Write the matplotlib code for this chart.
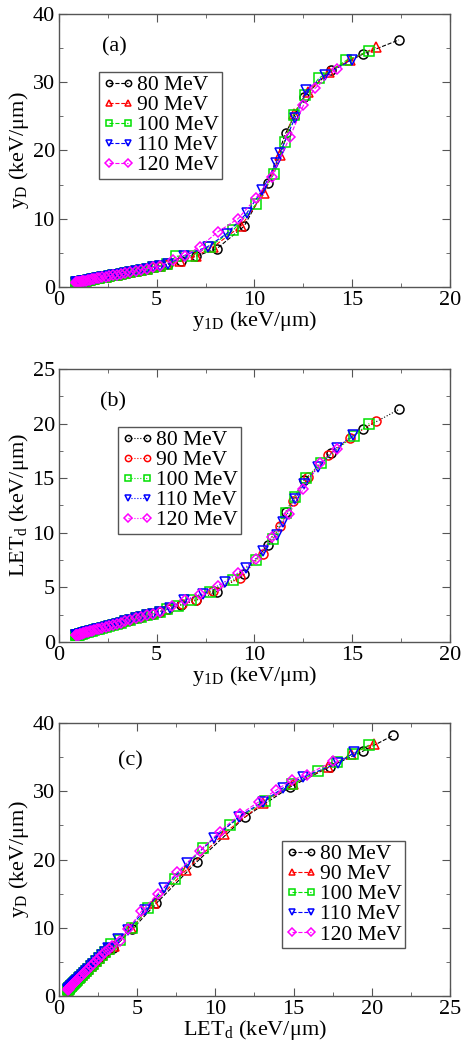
import matplotlib.pyplot as plt
from matplotlib.ticker import MultipleLocator

plt.rcParams['font.family'] = ['Liberation Serif', 'DejaVu Serif']
plt.rcParams['mathtext.fontset'] = 'stix'

energies = ["80 MeV", "90 MeV", "100 MeV", "110 MeV", "120 MeV"]
colors = ["black", "red", "#00e000", "blue", "magenta"]
markers_ac = ["o", "^", "s", "v", "D"]
markers_b = ["o", "o", "s", "v", "D"]

# ---- panel (a): yD vs y1D ----
low_a_x = [0.85, 0.88, 0.92, 0.96, 1.0, 1.05, 1.1, 1.16, 1.22, 1.3, 1.38, 1.47, 1.57, 1.68, 1.8,
           1.93, 2.07, 2.22, 2.38, 2.56, 2.75, 2.95, 3.17, 3.4, 3.65, 3.92, 4.2, 4.5, 4.82, 5.15]
low_a_y = [0.65, 0.67, 0.69, 0.71, 0.73, 0.76, 0.79, 0.82, 0.85, 0.9, 0.94, 0.99, 1.05, 1.11, 1.18,
           1.25, 1.33, 1.41, 1.5, 1.6, 1.71, 1.82, 1.94, 2.07, 2.21, 2.36, 2.52, 2.69, 2.87, 3.07]
tail_a_x = [
    [5.6, 6.26, 7.0, 8.07, 9.47, 10.67, 11.59, 12.53, 13.93, 15.53, 17.39],
    [5.5, 6.2, 7.0, 7.9, 9.3, 10.5, 11.3, 12.0, 12.75, 13.8, 14.9, 16.2],
    [5.5, 6.0, 6.8, 7.7, 8.9, 10.07, 11.0, 11.55, 12.0, 12.6, 13.3, 14.7, 15.87],
    [5.6, 6.4, 7.6, 8.57, 9.6, 10.4, 11.1, 11.3, 12.06, 12.66, 13.6, 14.97],
    [5.84, 6.43, 7.2, 8.14, 9.16, 10.07, 10.87, 11.8, 12.5, 13.1, 14.2],
]
tail_a_y = [
    [3.35, 3.8, 4.5, 5.6, 8.9, 15.2, 22.5, 27.9, 31.8, 34.1, 36.2],
    [3.3, 3.8, 4.5, 5.9, 8.9, 13.7, 19.3, 25.4, 28.6, 31.5, 33.3, 35.1],
    [3.3, 4.5, 4.6, 5.9, 8.3, 12.1, 16.6, 21.3, 25.2, 28.1, 30.6, 33.2, 34.6],
    [3.4, 4.6, 5.9, 7.8, 10.8, 14.2, 18.1, 19.6, 24.7, 28.8, 31.0, 33.3],
    [3.9, 4.6, 5.9, 8.1, 10.0, 13.0, 16.1, 21.9, 26.6, 29.1, 32.0],
]

# ---- panel (b): LETd vs y1D ----
low_b_x = low_a_x
low_b_y = [0.6, 0.62, 0.64, 0.66, 0.68, 0.7, 0.73, 0.76, 0.79, 0.83, 0.87, 0.92, 0.97, 1.02, 1.08,
           1.15, 1.22, 1.3, 1.38, 1.47, 1.57, 1.67, 1.78, 1.9, 2.02, 2.15, 2.29, 2.44, 2.6, 2.77]
tail_b_x = [
    [5.58, 6.26, 7.0, 8.07, 9.47, 10.67, 11.59, 12.53, 13.93, 15.53, 17.39],
    [5.6, 6.3, 7.0, 7.88, 9.28, 10.44, 11.33, 11.98, 12.75, 13.77, 14.88, 16.2],
    [5.5, 6.1, 6.77, 7.7, 8.9, 10.07, 10.96, 11.6, 12.06, 12.63, 13.4, 15.08, 15.87],
    [5.7, 6.4, 7.37, 8.48, 9.55, 10.44, 11.13, 11.47, 12.06, 12.54, 13.26, 14.2, 15.05],
    [5.8, 6.43, 7.2, 8.14, 9.16, 10.07, 10.87, 11.77, 12.5, 13.35, 14.2],
]
tail_b_y = [
    [3.0, 3.4, 3.8, 4.6, 6.2, 8.9, 11.9, 14.8, 17.3, 19.5, 21.3],
    [3.05, 3.45, 3.85, 4.7, 5.9, 8.1, 10.6, 12.9, 15.1, 17.1, 18.7, 20.2],
    [3.0, 3.3, 3.8, 4.6, 5.7, 7.5, 9.4, 11.8, 13.3, 15.0, 16.4, 18.9, 20.0],
    [3.1, 3.8, 4.4, 5.5, 6.8, 8.3, 9.8, 11.0, 13.05, 14.5, 16.0, 17.8, 18.95],
    [3.25, 3.8, 4.4, 5.1, 6.3, 7.6, 9.6, 11.7, 14.0, 16.35, 17.7],
]

# ---- panel (c): yD vs LETd ----
low_c_x = [0.55, 0.58, 0.61, 0.64, 0.67, 0.71, 0.75, 0.8, 0.85, 0.9, 0.96, 1.03, 1.1, 1.18,
           1.27, 1.37, 1.48, 1.6, 1.73, 1.87, 2.02, 2.18, 2.36, 2.55, 2.75, 2.97, 3.2]
low_c_y = [0.95, 1.02, 1.09, 1.16, 1.23, 1.32, 1.41, 1.53, 1.65, 1.76, 1.9, 2.06, 2.22, 2.41,
           2.62, 2.85, 3.1, 3.38, 3.68, 4.0, 4.34, 4.7, 5.1, 5.52, 5.96, 6.44, 6.94]
tail_c_x = [
    [3.46, 4.69, 6.23, 8.83, 11.88, 14.76, 17.32, 19.45, 21.37],
    [3.5, 4.6, 6.06, 8.15, 10.54, 13.05, 14.97, 17.2, 18.7, 20.14],
    [3.35, 3.9, 4.7, 5.7, 7.4, 9.2, 10.92, 13.16, 14.87, 16.57, 17.8, 18.81, 19.84],
    [3.14, 3.8, 4.4, 5.5, 6.7, 8.2, 9.9, 11.52, 13.05, 14.33, 15.6, 17.85, 18.88],
    [3.4, 3.9, 4.42, 5.27, 6.33, 7.55, 9.0, 10.28, 11.56, 12.8, 13.9, 14.93, 15.83, 17.53],
]
tail_c_y = [
    [7.0, 9.8, 13.6, 19.7, 26.2, 30.6, 33.6, 35.9, 38.2],
    [7.3, 9.9, 13.6, 18.5, 23.8, 28.3, 31.1, 33.5, 35.4, 37.0],
    [7.6, 8.2, 10.0, 12.9, 17.2, 21.7, 25.1, 28.6, 31.0, 32.9, 34.3, 35.5, 36.8],
    [7.0, 8.3, 9.7, 12.6, 15.8, 19.5, 23.1, 26.3, 28.5, 30.5, 32.1, 34.1, 35.7],
    [7.3, 8.1, 9.8, 12.4, 15.0, 18.1, 21.3, 24.1, 26.6, 28.5, 30.2, 31.7, 32.4, 34.4],
]

fig = plt.figure(figsize=(4.67, 10.5), dpi=100)
ax_a = fig.add_axes([0.1263, 0.7267, 0.8373, 0.26])
ax_b = fig.add_axes([0.1263, 0.3886, 0.8373, 0.26])
ax_c = fig.add_axes([0.1263, 0.0514, 0.8373, 0.26])

panels = [
    (ax_a, low_a_x, low_a_y, tail_a_x, tail_a_y, markers_ac, "--"),
    (ax_b, low_b_x, low_b_y, tail_b_x, tail_b_y, markers_b, ":"),
    (ax_c, low_c_x, low_c_y, tail_c_x, tail_c_y, markers_ac, "--"),
]

for ax, lx, ly, tx, ty, mks, ls in panels:
    for i in range(5):
        ax.plot(lx + tx[i], ly + ty[i], linestyle=ls, linewidth=0.8, color=colors[i],
                marker=mks[i], markersize=6.5 if mks[i] != "D" else 5.5, markerfacecolor="none",
                markeredgecolor=colors[i], markeredgewidth=1.1, label=energies[i])

for ax in (ax_a, ax_b, ax_c):
    ax.tick_params(which="both", direction="in", top=True, right=True, colors="#555555",
                   labelcolor="black", labelsize=16, pad=3)
    ax.tick_params(which="major", length=6)
    ax.tick_params(which="minor", length=3)
    for s in ax.spines.values():
        s.set_color("#555555")
        s.set_linewidth(1.0)

ax_a.set_xlim(0, 20)
ax_a.set_ylim(0, 40)
ax_a.xaxis.set_major_locator(MultipleLocator(5))
ax_a.xaxis.set_minor_locator(MultipleLocator(2.5))
ax_a.yaxis.set_major_locator(MultipleLocator(10))
ax_a.yaxis.set_minor_locator(MultipleLocator(5))
ax_a.set_xlabel(r"y$_{\mathregular{1D}}$ (keV/μm)", fontsize=16, labelpad=-1)
ax_a.set_ylabel(r"y$_{\mathregular{D}}$ (keV/μm)", fontsize=16, labelpad=1)
ax_a.text(0.11, 0.88, "(a)", transform=ax_a.transAxes, fontsize=16, va="center")

ax_b.set_xlim(0, 20)
ax_b.set_ylim(0, 25)
ax_b.xaxis.set_major_locator(MultipleLocator(5))
ax_b.xaxis.set_minor_locator(MultipleLocator(2.5))
ax_b.yaxis.set_major_locator(MultipleLocator(5))
ax_b.yaxis.set_minor_locator(MultipleLocator(2.5))
ax_b.set_xlabel(r"y$_{\mathregular{1D}}$ (keV/μm)", fontsize=16, labelpad=-1)
ax_b.set_ylabel(r"LET$_{\mathregular{d}}$ (keV/μm)", fontsize=16, labelpad=1)
ax_b.text(0.105, 0.88, "(b)", transform=ax_b.transAxes, fontsize=16, va="center")

ax_c.set_xlim(0, 25)
ax_c.set_ylim(0, 40)
ax_c.xaxis.set_major_locator(MultipleLocator(5))
ax_c.xaxis.set_minor_locator(MultipleLocator(2.5))
ax_c.yaxis.set_major_locator(MultipleLocator(10))
ax_c.yaxis.set_minor_locator(MultipleLocator(5))
ax_c.set_xlabel(r"LET$_{\mathregular{d}}$ (keV/μm)", fontsize=16, labelpad=-1)
ax_c.set_ylabel(r"y$_{\mathregular{D}}$ (keV/μm)", fontsize=16, labelpad=1)
ax_c.text(0.15, 0.86, "(c)", transform=ax_c.transAxes, fontsize=16, va="center")

leg_pos = [(ax_a, (0.102, 0.788)), (ax_b, (0.151, 0.788)), (ax_c, (0.57, 0.568))]
for ax, anchor in leg_pos:
    leg = ax.legend(loc="upper left", bbox_to_anchor=anchor, numpoints=2, handlelength=1.5,
                    handletextpad=0.1, labelspacing=0.0, borderpad=0.15, fontsize=15.5,
                    fancybox=False, framealpha=1, edgecolor="#555555", borderaxespad=0)
    leg.get_frame().set_linewidth(1.0)
    for h in leg.get_lines():
        h.set_markersize(4.5)

fig.savefig("out.png", dpi=100)
